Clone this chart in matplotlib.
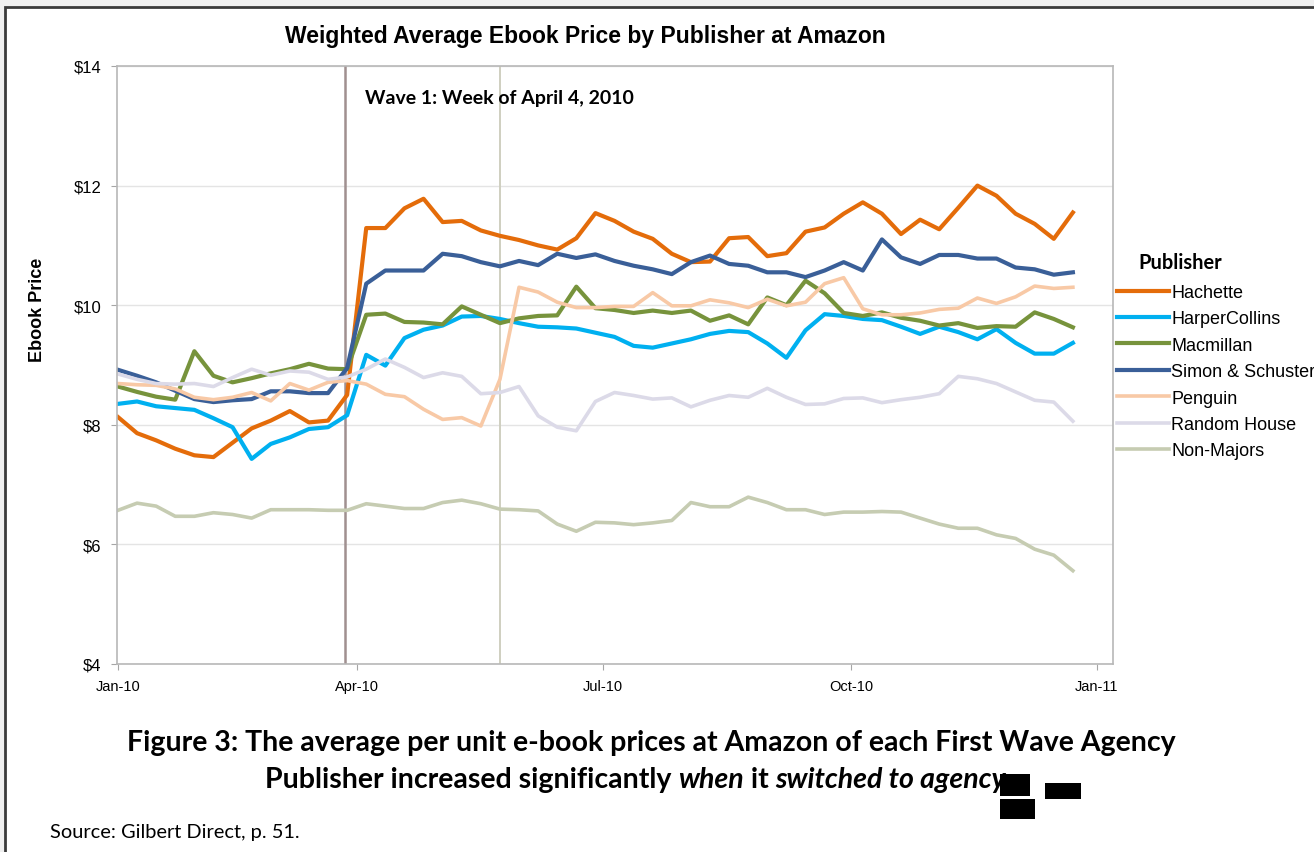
import matplotlib.pyplot as plt
from matplotlib.patches import Rectangle
import numpy as np

# weekly observations, Jan 2010 - Dec 2010
weeks = np.arange(51)

hachette = [8.13, 7.86, 7.74, 7.60, 7.49, 7.46, 7.70, 7.94, 8.07, 8.23, 8.04, 8.07, 8.50,
            11.29, 11.29, 11.62, 11.78, 11.39, 11.41, 11.25, 11.16, 11.09, 11.00, 10.93, 11.12, 11.54,
            11.41, 11.23, 11.11, 10.86, 10.72, 10.73, 11.12, 11.14, 10.82, 10.87, 11.23, 11.30,
            11.53, 11.72, 11.53, 11.19, 11.43, 11.27, 11.63, 12.00, 11.83, 11.53, 11.36, 11.11, 11.55]
harpercollins = [8.35, 8.39, 8.31, 8.28, 8.25, 8.11, 7.96, 7.43, 7.68, 7.79, 7.93, 7.96, 8.16,
                 9.17, 8.99, 9.45, 9.59, 9.66, 9.81, 9.82, 9.77, 9.70, 9.64, 9.63, 9.61, 9.54,
                 9.47, 9.32, 9.29, 9.36, 9.43, 9.52, 9.57, 9.55, 9.36, 9.12, 9.58, 9.85,
                 9.82, 9.77, 9.75, 9.64, 9.52, 9.64, 9.55, 9.43, 9.60, 9.37, 9.19, 9.19, 9.37]
macmillan = [8.64, 8.55, 8.47, 8.42, 9.23, 8.82, 8.71, 8.78, 8.86, 8.93, 9.02, 8.94, 8.93,
             9.84, 9.86, 9.72, 9.71, 9.68, 9.98, 9.84, 9.70, 9.78, 9.82, 9.83, 10.31, 9.95,
             9.92, 9.87, 9.91, 9.87, 9.91, 9.74, 9.83, 9.68, 10.13, 10.00, 10.41, 10.20,
             9.87, 9.82, 9.88, 9.79, 9.74, 9.66, 9.70, 9.62, 9.65, 9.64, 9.88, 9.77, 9.63]
simon_schuster = [8.92, 8.82, 8.71, 8.57, 8.43, 8.38, 8.41, 8.43, 8.56, 8.56, 8.53, 8.53, 8.95,
                  10.36, 10.58, 10.58, 10.58, 10.86, 10.82, 10.72, 10.65, 10.74, 10.67, 10.86, 10.79, 10.85,
                  10.74, 10.66, 10.60, 10.52, 10.72, 10.83, 10.69, 10.66, 10.55, 10.55, 10.47, 10.58,
                  10.72, 10.58, 11.10, 10.80, 10.69, 10.84, 10.84, 10.78, 10.78, 10.63, 10.60, 10.51, 10.55]
penguin = [8.69, 8.67, 8.66, 8.60, 8.46, 8.42, 8.46, 8.54, 8.40, 8.69, 8.58, 8.71, 8.74,
           8.68, 8.51, 8.47, 8.26, 8.09, 8.12, 7.98, 8.76, 10.30, 10.22, 10.05, 9.96, 9.96,
           9.98, 9.98, 10.21, 9.99, 9.99, 10.09, 10.04, 9.96, 10.10, 9.99, 10.05, 10.36,
           10.46, 9.94, 9.84, 9.84, 9.87, 9.93, 9.95, 10.12, 10.03, 10.14, 10.32, 10.28, 10.30]
random_house = [8.85, 8.76, 8.69, 8.68, 8.69, 8.64, 8.79, 8.93, 8.83, 8.90, 8.88, 8.76, 8.80,
                8.93, 9.10, 8.96, 8.79, 8.87, 8.81, 8.52, 8.54, 8.64, 8.15, 7.96, 7.90, 8.39,
                8.54, 8.49, 8.43, 8.45, 8.30, 8.41, 8.49, 8.46, 8.61, 8.46, 8.34, 8.35,
                8.44, 8.45, 8.37, 8.42, 8.46, 8.52, 8.81, 8.77, 8.69, 8.55, 8.41, 8.38, 8.06]
non_majors = [6.57, 6.69, 6.64, 6.47, 6.47, 6.53, 6.50, 6.44, 6.58, 6.58, 6.58, 6.57, 6.57,
              6.68, 6.64, 6.60, 6.60, 6.70, 6.74, 6.68, 6.59, 6.58, 6.56, 6.34, 6.22, 6.37,
              6.36, 6.33, 6.36, 6.40, 6.70, 6.63, 6.63, 6.79, 6.70, 6.58, 6.58, 6.50,
              6.54, 6.54, 6.55, 6.54, 6.44, 6.34, 6.27, 6.27, 6.16, 6.10, 5.92, 5.82, 5.56]

publishers = ['Hachette', 'HarperCollins', 'Macmillan', 'Simon & Schuster',
              'Penguin', 'Random House', 'Non-Majors']
series = [hachette, harpercollins, macmillan, simon_schuster, penguin, random_house, non_majors]
colors = ['#E46C0A', '#00B0F0', '#77933C', '#3A5F98', '#F8C9A6', '#DCDAE8', '#C6CCB2']
widths = [3.0, 3.0, 3.0, 3.0, 2.6, 2.6, 2.6]

month_labels = ['Jan-10', 'Apr-10', 'Jul-10', 'Oct-10', 'Jan-11']
month_pos = [0, 12.51, 25.39, 38.38, 51.26]

sans = ['Liberation Sans', 'DejaVu Sans']
calibri = ['Lato', 'DejaVu Sans']

fig = plt.figure(figsize=(13.14, 8.53), dpi=100)
fig.patch.set_facecolor('#EFEFEF')
# the page
fig.patches.append(Rectangle((5 / 1314, -0.05), 1.1, 1 - 8 / 853 + 0.05, transform=fig.transFigure,
                             facecolor='white', edgecolor='#3A3A3A', linewidth=2, zorder=-5))

ax = fig.add_axes([117 / 1314, 1 - 665 / 853, 996 / 1314, 598 / 853])
ax.set_facecolor('white')

for name, vals, c, lw in zip(publishers, series, colors, widths):
    ax.plot(weeks, vals, color=c, linewidth=lw, label=name, solid_joinstyle='round')

ax.axvline(11.9, color='#A09090', linewidth=1.8, zorder=1)
ax.axvline(20.0, color='#CFCFC0', linewidth=1.4, zorder=1)
ax.text(12.95, 13.48, 'Wave 1: Week of April 4, 2010', family=calibri, fontweight='bold',
        fontsize=14, ha='left', va='center')

ax.set_xlim(-0.05, 52.1)
ax.set_ylim(4, 14)
ax.set_yticks(range(4, 15, 2))
ax.set_yticklabels(['$%d' % v for v in range(4, 15, 2)], family=sans, fontsize=12)
ax.set_xticks(month_pos)
ax.set_xticklabels(month_labels, family=sans, fontsize=10.5)
ax.tick_params(axis='both', length=4, color='#A6A6A6', pad=7)
ax.grid(axis='y', color='#E4E4E4', linewidth=1)
ax.set_axisbelow(True)
for s in ax.spines.values():
    s.set_color('#B8B8B8')
    s.set_linewidth(1.2)

fig.text(585 / 1314, 1 - 37 / 853, 'Weighted Average Ebook Price by Publisher at Amazon',
         family=sans, fontweight='bold', fontsize=16.5, ha='center', va='center')
fig.text(38 / 1314, 1 - 310 / 853, 'Ebook Price', family=sans, fontweight='bold', fontsize=13,
         rotation=90, ha='center', va='center')

leg = fig.legend(loc='upper left', bbox_to_anchor=(1117 / 1314, 1 - 285 / 853), frameon=False,
                 prop={'family': sans, 'size': 13}, handlelength=2.9, handletextpad=0.1,
                 labelspacing=0.52, borderaxespad=0, borderpad=0)
fig.text(1138 / 1314, 1 - 263 / 853, 'Publisher', family=calibri, fontweight='bold',
         fontsize=14.4, ha='left', va='center')

fig.text(651 / 1314, 1 - 743 / 853,
         'Figure 3: The average per unit e-book prices at Amazon of each First Wave Agency',
         family=calibri, fontweight='bold', fontsize=20.5, ha='center', va='center')

# second caption line with italic words
renderer = fig.canvas.get_renderer()
pieces = [('Publisher increased significantly ', 'normal'), ('when', 'italic'),
          (' it ', 'normal'), ('switched to agency', 'italic')]
x = 265 / 1314
for txt, style in pieces:
    t = fig.text(x, 1 - 780 / 853, txt, family=calibri, fontweight='bold', fontstyle=style,
                 fontsize=20.5, ha='left', va='center')
    x = t.get_window_extent(renderer).x1 / fig.bbox.width

# scribbles over the end of the caption
for (x0, y0, w, h) in [(1000, 775, 30, 22), (1045, 784, 36, 16), (1000, 800, 35, 20)]:
    fig.patches.append(Rectangle((x0 / 1314, 1 - (y0 + h) / 853), w / 1314, h / 853,
                                 transform=fig.transFigure, facecolor='black', zorder=5))

fig.text(50 / 1314, 1 - 833 / 853, 'Source: Gilbert Direct, p. 51.', family=calibri,
         fontsize=14.4, ha='left', va='center')

fig.savefig('out.png', dpi=100, facecolor=fig.get_facecolor())
